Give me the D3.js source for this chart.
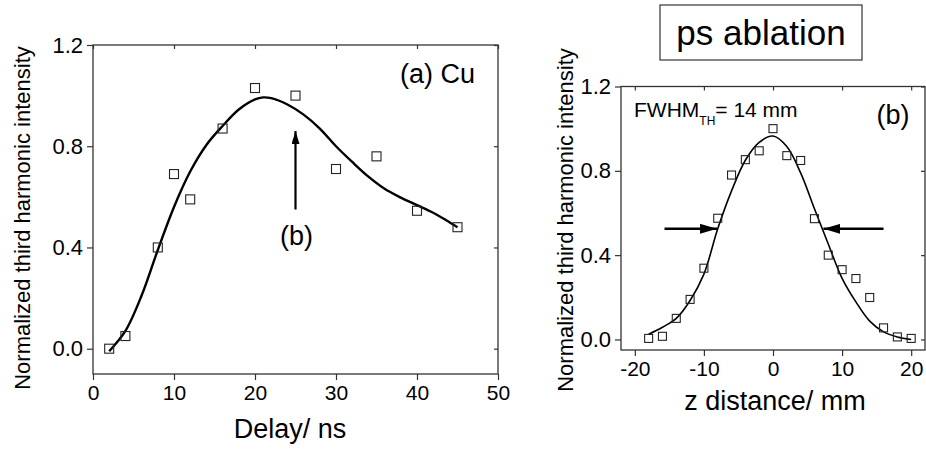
<!DOCTYPE html>
<html>
<head>
<meta charset="utf-8">
<script src="https://cdnjs.cloudflare.com/ajax/libs/d3/7.8.5/d3.min.js"></script>
<style>
    body { margin: 0; background: #fff; }
    svg text { font-family: Arial, "Liberation Sans", sans-serif; fill: #000; }
    .frame { fill: none; stroke: #333; stroke-width: 1.3; }
    .axis path { display: none; }
    .axis line { stroke: #333; stroke-width: 1.2; }
</style>
</head>
<body>
<svg id="chartSVG" width="926" height="452"></svg>
<script>
//////////////////// DATA ////////////////////
// (a) Cu: delay scan
const delay = [2, 4, 8, 10, 12, 16, 20, 25, 30, 35, 40, 45];
const delayIntensity = [0.0, 0.05, 0.40, 0.69, 0.59, 0.87, 1.03, 1.00, 0.71, 0.76, 0.545, 0.48];
// fitted curve
const fitDelay = [2, 4, 6, 8, 10, 12, 14, 16, 18, 20, 21, 22, 24, 26, 28, 30, 32, 34, 36, 38, 40, 42, 44, 45];
const fitDelayIntensity = [-0.01, 0.07, 0.21, 0.39, 0.56, 0.70, 0.805, 0.88, 0.945, 0.985, 0.993, 0.99, 0.965, 0.925, 0.87, 0.80, 0.738, 0.68, 0.632, 0.597, 0.567, 0.537, 0.50, 0.48];

// (b) z scan
const zDist = [-18, -16, -14, -12, -10, -8, -6, -4, -2, 0, 2, 4, 6, 8, 10, 12, 14, 16, 18, 20];
const zIntensity = [0.005, 0.015, 0.10, 0.19, 0.338, 0.575, 0.78, 0.853, 0.895, 1.0, 0.872, 0.849, 0.573, 0.40, 0.331, 0.289, 0.199, 0.055, 0.012, 0.005];
const fitZ = [-18, -16, -14, -12, -10, -8, -6, -4, -2, 0, 2, 4, 6, 8, 10, 12, 14, 16, 18, 20];
const fitZIntensity = [0.025, 0.058, 0.10, 0.185, 0.31, 0.525, 0.705, 0.85, 0.935, 0.965, 0.915, 0.79, 0.62, 0.453, 0.29, 0.178, 0.087, 0.036, 0.012, 0.0];

// ticks
const delayTicks = [0, 10, 20, 30, 40, 50];
const zTicks = [-20, -10, 0, 10, 20];
const intensityTicks = [0.0, 0.4, 0.8, 1.2];

// annotations (data coordinates)
const arrowA = { x: 25, from: 0.55, to: 0.86 };
const fwhmArrows = [{ from: -15.7, to: -8.1, y: 0.525 }, { from: 16, to: 7.3, y: 0.525 }];


//////////////////// HANDLE SIZES ////////////////////
const svg = d3.select("#chartSVG");

const panelA = { left: 93, right: 498, top: 45, bottom: 374 };
const panelB = { left: 621, right: 925, top: 86.5, bottom: 350 };

const fmt = d3.format(".1f");


//////////////////// SCALES ////////////////////
const xA = d3.scaleLinear().domain([0, 50]).range([panelA.left, panelA.right]);
const yA = d3.scaleLinear().domain([-0.1, 1.2]).range([panelA.bottom, panelA.top]);

const xB = d3.scaleLinear().domain([-22, 22]).range([panelB.left, panelB.right]);
const yB = d3.scaleLinear().domain([-0.05, 1.2]).range([panelB.bottom, panelB.top]);


//////////////////// ARROW MARKERS ////////////////////
const defs = svg.append("defs");

function addMarker(id, len, wid) {
    defs.append("marker")
        .attr("id", id)
        .attr("viewBox", "0 0 10 10")
        .attr("refX", 10)
        .attr("refY", 5)
        .attr("markerUnits", "userSpaceOnUse")
        .attr("markerWidth", len)
        .attr("markerHeight", wid)
        .attr("orient", "auto")
        .attr("preserveAspectRatio", "none")
        .append("path")
        .attr("d", "M0,0 L10,5 L0,10 Z")
        .attr("fill", "#000");
}
addMarker("headSmall", 13, 8);
addMarker("headLarge", 17, 10);


//////////////////// DRAW PANEL FUNCTION ////////////////////
function drawPanel(box, x, y, xTicks, xs, ys, fx, fy, curveWidth, markSize) {

    const g = svg.append("g");

    // bottom + left axes (ticks outside)
    g.append("g")
        .attr("class", "axis")
        .attr("transform", `translate(0,${box.bottom})`)
        .call(d3.axisBottom(x).tickValues(xTicks).tickFormat(d => String(d)).tickSize(6).tickPadding(5))
        .selectAll("text")
        .style("font-size", "21px");

    g.append("g")
        .attr("class", "axis")
        .attr("transform", `translate(${box.left},0)`)
        .call(d3.axisLeft(y).tickValues(intensityTicks).tickFormat(fmt).tickSize(6).tickPadding(4))
        .selectAll("text")
        .style("font-size", "22px");

    // mirror ticks on top + right (inside)
    g.append("g")
        .attr("class", "axis")
        .attr("transform", `translate(0,${box.top})`)
        .call(d3.axisTop(x).tickValues(xTicks).tickSize(-4).tickFormat(""));

    g.append("g")
        .attr("class", "axis")
        .attr("transform", `translate(${box.right},0)`)
        .call(d3.axisRight(y).tickValues(intensityTicks).tickSize(-4).tickFormat(""));

    // frame
    g.append("rect")
        .attr("class", "frame")
        .attr("x", box.left)
        .attr("y", box.top)
        .attr("width", box.right - box.left)
        .attr("height", box.bottom - box.top);

    // fitted curve
    const line = d3.line()
        .x(d => x(d[0]))
        .y(d => y(d[1]))
        .curve(d3.curveCatmullRom.alpha(0.5));

    g.append("path")
        .datum(d3.zip(fx, fy))
        .attr("d", line)
        .attr("fill", "none")
        .attr("stroke", "#000")
        .attr("stroke-width", curveWidth);

    // data points (open squares)
    g.selectAll(".mark")
        .data(d3.zip(xs, ys))
        .enter()
        .append("rect")
        .attr("class", "mark")
        .attr("x", d => x(d[0]) - markSize / 2)
        .attr("y", d => y(d[1]) - markSize / 2)
        .attr("width", markSize)
        .attr("height", markSize)
        .attr("fill", "none")
        .attr("stroke", "#222")
        .attr("stroke-width", 1.1);

    return g;
}


//////////////////// PANEL (a) ////////////////////
const gA = drawPanel(panelA, xA, yA, delayTicks, delay, delayIntensity, fitDelay, fitDelayIntensity, 2.4, 9);

gA.append("line")
    .attr("x1", xA(arrowA.x))
    .attr("x2", xA(arrowA.x))
    .attr("y1", yA(arrowA.from))
    .attr("y2", yA(arrowA.to))
    .attr("stroke", "#000")
    .attr("stroke-width", 2.2)
    .attr("marker-end", "url(#headSmall)");

gA.append("text")
    .attr("x", xA(arrowA.x) + 1)
    .attr("y", 245)
    .attr("text-anchor", "middle")
    .style("font-size", "27px")
    .text("(b)");

gA.append("text")
    .attr("x", 400)
    .attr("y", 83)
    .style("font-size", "27px")
    .text("(a) Cu");

gA.append("text")
    .attr("x", 290)
    .attr("y", 438)
    .attr("text-anchor", "middle")
    .style("font-size", "27px")
    .text("Delay/ ns");

gA.append("text")
    .attr("transform", "translate(30,218) rotate(-90)")
    .attr("text-anchor", "middle")
    .style("font-size", "22px")
    .text("Normalized third harmonic intensity");


//////////////////// PANEL (b) ////////////////////
const gB = drawPanel(panelB, xB, yB, zTicks, zDist, zIntensity, fitZ, fitZIntensity, 1.6, 8);

gB.selectAll(".fwhmArrow")
    .data(fwhmArrows)
    .enter()
    .append("line")
    .attr("class", "fwhmArrow")
    .attr("x1", d => xB(d.from))
    .attr("x2", d => xB(d.to))
    .attr("y1", d => yB(d.y))
    .attr("y2", d => yB(d.y))
    .attr("stroke", "#000")
    .attr("stroke-width", 2.6)
    .attr("marker-end", "url(#headLarge)");

const fwhm = gB.append("text")
    .attr("x", 634)
    .attr("y", 117)
    .style("font-size", "21px");
fwhm.append("tspan").text("FWHM");
fwhm.append("tspan").attr("dy", 8).style("font-size", "12px").text("TH");
fwhm.append("tspan").attr("dy", -8).text("= 14 mm");

gB.append("text")
    .attr("x", 893)
    .attr("y", 124)
    .attr("text-anchor", "middle")
    .style("font-size", "27px")
    .text("(b)");

gB.append("text")
    .attr("x", 775)
    .attr("y", 410)
    .attr("text-anchor", "middle")
    .style("font-size", "27px")
    .text("z distance/ mm");

gB.append("text")
    .attr("transform", "translate(573,220) rotate(-90)")
    .attr("text-anchor", "middle")
    .style("font-size", "22px")
    .text("Normalized third harmonic intensity");


//////////////////// TITLE BOX ////////////////////
svg.append("rect")
    .attr("x", 660)
    .attr("y", 5)
    .attr("width", 202)
    .attr("height", 55)
    .attr("fill", "none")
    .attr("stroke", "#333")
    .attr("stroke-width", 1.2);

svg.append("text")
    .attr("x", 761)
    .attr("y", 45)
    .attr("text-anchor", "middle")
    .style("font-size", "35px")
    .text("ps ablation");
</script>
</body>
</html>
